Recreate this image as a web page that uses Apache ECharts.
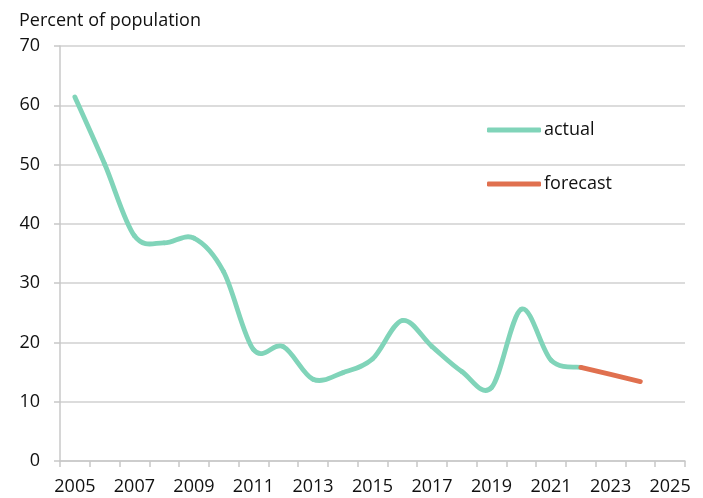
<!DOCTYPE html>
<html>
<head>
<meta charset="utf-8">
<script src="https://cdn.jsdelivr.net/npm/echarts@6/dist/echarts.min.js"></script>
<style>html,body{margin:0;padding:0;background:#fff}#c{width:703px;height:498px}</style>
</head>
<body>
<div id="c"></div>
<script>
var years = ['2005','2006','2007','2008','2009','2010','2011','2012','2013','2014','2015','2016','2017','2018','2019','2020','2021','2022','2023','2024','2025'];
var actual = [61.4, 50.1, 38.0, 36.8, 37.6, 31.9, 18.8, 19.3, 13.8, 14.9, 17.2, 23.7, 19.3, 15.1, 12.4, 25.6, 17.0, 15.8, null, null, null];
var forecast = [null, null, null, null, null, null, null, null, null, null, null, null, null, null, null, null, null, 15.8, 14.6, 13.4, null];
var yTicks = [0, 10, 20, 30, 40, 50, 60, 70];

var font = '"Open Sans", "Noto Sans", sans-serif';
var fs = 18;

function pairs(arr) {
  var out = [];
  arr.forEach(function (v, i) { if (v !== null) out.push([i, v]); });
  return out;
}

// Smoothed line (Catmull-Rom style, like spreadsheet "smoothed line"), drawn through the axis scales
function smoothSeries(name, arr, color) {
  var data = pairs(arr);
  var n = data.length;
  return {
    name: name, type: 'custom', data: data,
    encode: {x: 0, y: 1},
    itemStyle: {color: color},
    renderItem: function (params, api) {
      var i = params.dataIndexInside;
      if (i >= n - 1) return null;
      function pt(k) {
        k = Math.max(0, Math.min(n - 1, k));
        return api.coord([api.value(0, k), api.value(1, k)]);
      }
      var p0 = pt(i - 1), p1 = pt(i), p2 = pt(i + 1), p3 = pt(i + 2);
      var t = 1 / 6;
      return {
        type: 'bezierCurve',
        shape: {
          x1: p1[0], y1: p1[1],
          cpx1: p1[0] + (p2[0] - p0[0]) * t, cpy1: p1[1] + (p2[1] - p0[1]) * t,
          cpx2: p2[0] - (p3[0] - p1[0]) * t, cpy2: p2[1] - (p3[1] - p1[1]) * t,
          x2: p2[0], y2: p2[1]
        },
        style: {stroke: color, lineWidth: 4.8, fill: null, lineCap: 'round', lineJoin: 'round'},
        silent: true
      };
    }
  };
}

var chart = echarts.init(document.getElementById('c'), null, {renderer: 'canvas'});
chart.setOption({
  animation: false,
  textStyle: {fontFamily: font},
  title: {
    text: 'Percent of population',
    left: 14, top: 7,
    textStyle: {fontSize: fs, fontWeight: 'normal', color: '#111', fontFamily: font}
  },
  legend: {
    orient: 'vertical',
    left: 482, top: 116,
    itemGap: 36,
    itemWidth: 54, itemHeight: 5,
    icon: 'roundRect',
    textStyle: {fontSize: fs, color: '#111', fontFamily: font, padding: [0, 0, 0, -2]},
    data: ['actual', 'forecast']
  },
  grid: {left: 60, right: 18, top: 46, bottom: 37, containLabel: false},
  xAxis: {
    type: 'category',
    data: years,
    boundaryGap: true,
    axisLine: {lineStyle: {color: '#c8c8c8', width: 1.5}},
    axisTick: {show: true, interval: 0, length: 6, lineStyle: {color: '#c8c8c8', width: 1.5}},
    axisLabel: {interval: 1, fontSize: fs, color: '#111', margin: 17, fontFamily: font},
    splitLine: {show: false}
  },
  yAxis: {
    type: 'value',
    min: yTicks[0], max: yTicks[yTicks.length - 1], interval: 10,
    axisLine: {show: true, lineStyle: {color: '#c8c8c8', width: 1.5}},
    axisTick: {show: true, length: 6, lineStyle: {color: '#c8c8c8', width: 1.5}},
    axisLabel: {fontSize: fs, color: '#111', margin: 20, fontFamily: font},
    splitLine: {show: true, lineStyle: {color: '#d0d0d0', width: 1.5}}
  },
  series: [
    smoothSeries('actual', actual, '#80d4b9'),
    {
      name: 'forecast', type: 'line', data: forecast, smooth: false,
      showSymbol: false, symbol: 'none',
      itemStyle: {color: '#e0704f'},
      lineStyle: {color: '#e0704f', width: 4.8, cap: 'round', join: 'round'}
    }
  ]
});
</script>
</body>
</html>
